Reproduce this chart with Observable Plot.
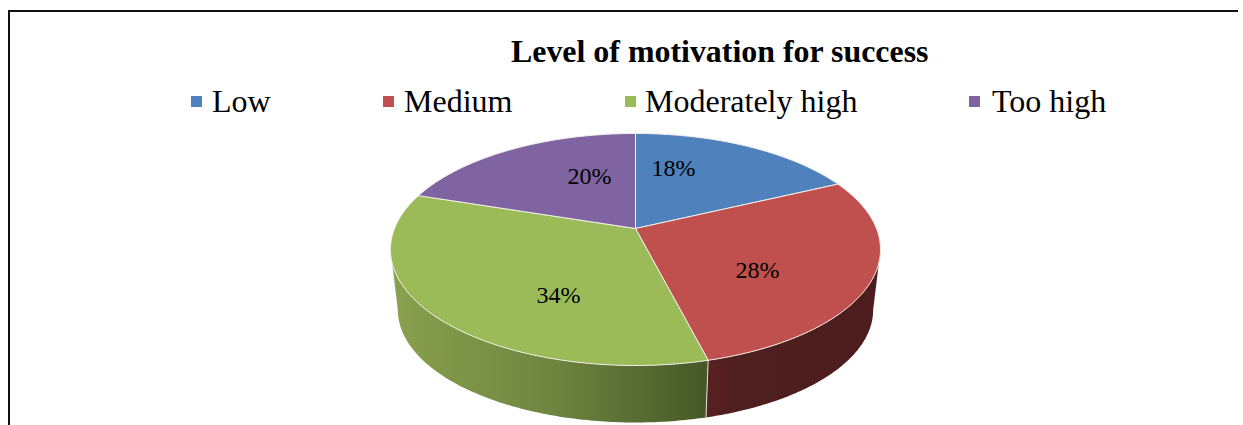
<!DOCTYPE html>
<html>
<head>
<meta charset="utf-8">
<script src="https://cdn.jsdelivr.net/npm/d3@7"></script>
<script src="https://cdn.jsdelivr.net/npm/@observablehq/plot@0.6"></script>
<style>
html,body{margin:0;padding:0;background:#fff;overflow:hidden}
body{width:1243px;height:425px;position:relative;font-family:"Liberation Serif",serif;color:#000}
#frameTop{position:absolute;left:8px;top:10px;width:1230px;height:2px;background:#111}
#frameLeft{position:absolute;left:8px;top:10px;width:2px;height:415px;background:#111}
#title{position:absolute;left:511px;top:34px;font-size:31.9px;font-weight:bold;line-height:36px;white-space:nowrap}
.lg{position:absolute;top:82px;font-size:32px;line-height:38px;white-space:nowrap}
.sw{position:absolute;top:96px;width:11px;height:11px}
#chart{position:absolute;left:0;top:120px}
</style>
</head>
<body>
<div id="frameTop"></div>
<div id="frameLeft"></div>
<div id="title"></div>
<div id="legend"></div>
<div id="chart"></div>
<script>
const chartTitle = "Level of motivation for success";
const categories = ["Low", "Medium", "Moderately high", "Too high"];
const percents = [18, 28, 34, 20];
const colors = ["#4f81bd", "#c0504d", "#9bbb59", "#8064a2"];
const legendSwatchX = [191, 383, 625, 969];
const legendTextX = [212, 404, 645, 992];
// label anchors in the chart's unit coordinates (1 unit = pie half-width)
const labelU = [0.155, 0.498, -0.314, -0.188];
const labelV = [0.245, -0.172, -0.274, 0.212];

document.getElementById("title").textContent = chartTitle;
const lg = document.getElementById("legend");
categories.forEach((c, i) => {
  const s = document.createElement("div");
  s.className = "sw"; s.style.left = legendSwatchX[i] + "px"; s.style.background = colors[i];
  lg.appendChild(s);
  const t = document.createElement("div");
  t.className = "lg"; t.style.left = legendTextX[i] + "px"; t.textContent = c;
  lg.appendChild(t);
});

// Perspective disc: unit circle, far edge compressed
const P = 0.181, A = Math.sqrt(1 - P * P), B = 112.2 / 245;
const SHRINK = 0.97, DROP = 61.1 / 245;
const proj = (theta, r = 1, lower = false) => {
  const sx = Math.sin(theta) * r, cz = Math.cos(theta) * r, d = 1 + P * cz;
  const s = lower ? SHRINK : 1;
  return {u: s * A * sx / d, v: s * B * cz / d - (lower ? DROP : 0)};
};

const TAU = 2 * Math.PI;
const total = d3.sum(percents);
let cum = 0;
const slices = percents.map((p, i) => {
  const a0 = cum / total * TAU; cum += p;
  return {i, name: categories[i], p, a0, a1: cum / total * TAU, color: colors[i]};
});
const arc = (a0, a1, lower) => {
  const n = Math.max(2, Math.ceil((a1 - a0) * 80));
  return d3.range(n + 1).map(k => proj(a0 + (a1 - a0) * k / n, 1, lower));
};

// top faces
const topRows = slices.flatMap(s =>
  [proj(0, 0), ...arc(s.a0, s.a1, false), proj(0, 0)].map(pt => ({...pt, z: s.name, c: s.color})));

// outer wall, limited to the visible front half of the rim
const rimStart = Math.acos(-P), rimEnd = TAU - rimStart;
const wallFills = {Medium: "url(#wallRed)", "Moderately high": "url(#wallGreen)"};
const wallRows = slices.flatMap(s => {
  const a0 = Math.max(s.a0, rimStart), a1 = Math.min(s.a1, rimEnd);
  if (a1 <= a0) return [];
  return [...arc(a0, a1, false), ...arc(a0, a1, true).reverse(), proj(a0, 1, false)]
    .map(pt => ({...pt, z: s.name, c: wallFills[s.name]}));
});
// seam between the two visible walls
const seamA = slices[1].a1;
const seamRows = [proj(seamA, 1, false), proj(seamA, 1, true)];
const labels = slices.map((s, i) => ({u: labelU[i], v: labelV[i], t: s.p + "%"}));

const defs = () => {
  const ns = "http://www.w3.org/2000/svg";
  const d = document.createElementNS(ns, "defs");
  const grad = (id, stops) => {
    const g = document.createElementNS(ns, "linearGradient");
    g.setAttribute("id", id);
    stops.forEach(([o, c]) => {
      const st = document.createElementNS(ns, "stop");
      st.setAttribute("offset", o); st.setAttribute("stop-color", c);
      g.appendChild(st);
    });
    d.appendChild(g);
  };
  grad("wallGreen", [[0, "#8aa24f"], [0.1, "#849b4b"], [0.5, "#6f8641"], [0.8, "#566a31"], [1, "#465728"]]);
  grad("wallRed", [[0, "#5a2221"], [0.15, "#4f1e1e"], [1, "#4d1d1d"]]);
  return d;
};

const cy = 108, R = 245;
const plot = Plot.plot({
  width: 1243, height: 305,
  margin: 0,
  style: {background: "transparent", fontFamily: '"Liberation Serif", serif'},
  x: {domain: [-1, 1], range: [635 - R, 635 + R], axis: null},
  y: {domain: [-1, 1], range: [cy + R, cy - R], axis: null},
  marks: [
    defs,
    Plot.line(wallRows, {x: "u", y: "v", z: "z", fill: "c", stroke: "none", curve: "linear"}),
    Plot.line(seamRows, {x: "u", y: "v", stroke: "#dfe3d6", strokeWidth: 1, curve: "linear"}),
    Plot.line(topRows, {x: "u", y: "v", z: "z", fill: "c", stroke: "#f2efe9", strokeWidth: 1, strokeLinejoin: "round", curve: "linear"}),
    Plot.text(labels, {x: "u", y: "v", text: "t", fontSize: 24, fill: "#000", textAnchor: "middle", lineAnchor: "middle"})
  ]
});
document.getElementById("chart").appendChild(plot);
</script>
</body>
</html>
